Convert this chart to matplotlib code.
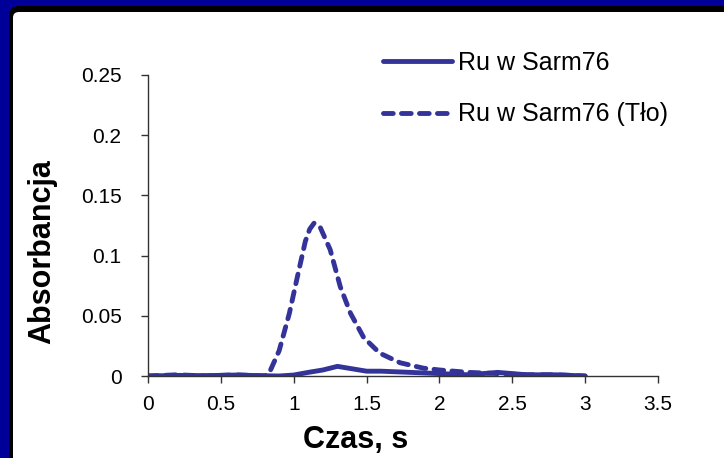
import numpy as np
import matplotlib
matplotlib.use("Agg")
import matplotlib.pyplot as plt
from matplotlib.patches import FancyBboxPatch
from matplotlib.ticker import FormatStrFormatter

plt.rcParams['font.family'] = ['Liberation Sans', 'DejaVu Sans']

# --- DATA ---
t_sample = [0.0, 0.2, 0.4, 0.6, 0.8, 0.9, 1.0, 1.1, 1.2, 1.3, 1.4, 1.5,
            1.6, 1.8, 2.0, 2.2, 2.3, 2.4, 2.5, 2.6, 2.8, 3.0]
abs_sample = [0.0, 0.0005, 0.0003, 0.0008, 0.0002, 0.0, 0.0008, 0.003,
              0.005, 0.008, 0.006, 0.004, 0.004, 0.003, 0.002, 0.001,
              0.002, 0.003, 0.002, 0.001, 0.001, 0.0]

t_bg = [0.0, 0.2, 0.4, 0.6, 0.8, 0.83, 0.9, 0.97, 1.03, 1.08, 1.11, 1.14,
        1.18, 1.25, 1.32, 1.39, 1.48, 1.59, 1.73, 1.89, 2.0, 2.2, 2.4,
        2.6, 2.8, 3.0]
abs_bg = [0.0, 0.001, 0.0, 0.001, 0.0, 0.002, 0.021, 0.052, 0.085, 0.112,
          0.122, 0.127, 0.124, 0.105, 0.074, 0.052, 0.032, 0.019, 0.011,
          0.0065, 0.005, 0.003, 0.002, 0.001, 0.001, 0.0]

labels = ["Ru w Sarm76", "Ru w Sarm76 (Tło)"]
xticks = [0, 0.5, 1, 1.5, 2, 2.5, 3, 3.5]
yticks = [0, 0.05, 0.1, 0.15, 0.2, 0.25]

W, H = 724, 458
line_col = '#333399'

fig = plt.figure(figsize=(W / 100, H / 100), dpi=100)
fig.patch.set_facecolor('#000099')

# slide frame: black band and white panel with rounded inner corner
asp = W / H
fig.patches.append(FancyBboxPatch((9 / W, -0.2), 1.2, 1.2 - 6 / H,
                                  boxstyle="round,pad=0,rounding_size=0.014",
                                  mutation_aspect=asp, transform=fig.transFigure,
                                  facecolor='black', edgecolor='none', zorder=-2))
fig.patches.append(FancyBboxPatch((13 / W, -0.2), 1.2, 1.2 - 12 / H,
                                  boxstyle="round,pad=0,rounding_size=0.008",
                                  mutation_aspect=asp, transform=fig.transFigure,
                                  facecolor='white', edgecolor='none', zorder=-1))

ax = fig.add_axes([148 / W, 1 - 376 / H, 510 / W, 301 / H])
ax.set_facecolor('none')

dash = (0, (2.0, 1.7))
ax.plot(t_sample, abs_sample, color=line_col, lw=3.5, solid_capstyle='round',
        label=labels[0])
ax.plot(t_bg, abs_bg, color=line_col, lw=3.5, ls=dash,
        dash_capstyle='round', label=labels[1])

ax.set_xlim(0, 3.5)
ax.set_ylim(0, 0.25)
ax.set_xticks(xticks)
ax.set_yticks(yticks)
ax.xaxis.set_major_formatter(FormatStrFormatter('%g'))
ax.yaxis.set_major_formatter(FormatStrFormatter('%g'))
ax.spines['top'].set_visible(False)
ax.spines['right'].set_visible(False)
for s in ('left', 'bottom'):
    ax.spines[s].set_color('#333333')
    ax.spines[s].set_linewidth(1.0)
ax.tick_params(axis='both', direction='out', length=5, width=1,
               color='#333333', labelsize=15)
ax.tick_params(axis='y', pad=14)
ax.tick_params(axis='x', pad=9)

fig.text(42 / W, 1 - 252 / H, "Absorbancja", rotation=90, fontsize=22,
         fontweight='bold', ha='center', va='center')
fig.text(356 / W, 1 - 440 / H, "Czas, s", fontsize=22,
         fontweight='bold', ha='center', va='center')

ax.legend(loc='upper left', bbox_to_anchor=(383 / W, 1 - 51 / H),
          bbox_transform=fig.transFigure, frameon=False, fontsize=18,
          handlelength=2.75, handletextpad=0.25, labelspacing=1.1,
          borderpad=0, borderaxespad=0)

fig.savefig("out.png", dpi=100, facecolor=fig.get_facecolor())
